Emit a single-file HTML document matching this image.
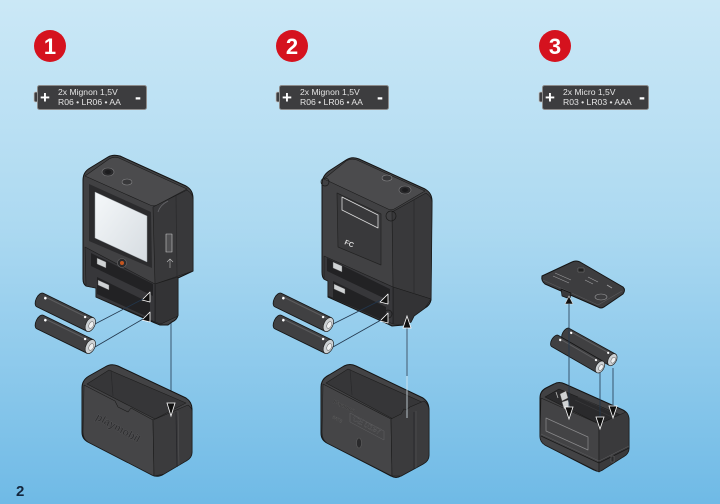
<!DOCTYPE html>
<html><head><meta charset="utf-8">
<style>
html,body{margin:0;padding:0;width:720px;height:504px;overflow:hidden;background:#aedaf1;}
svg{display:block;}
text{font-family:"Liberation Sans",Arial,sans-serif;}
</style></head><body>
<svg width="720" height="504" viewBox="0 0 720 504" xmlns="http://www.w3.org/2000/svg">
<defs>
<linearGradient id="bg" x1="0" y1="0" x2="0" y2="1">
<stop offset="0" stop-color="#cbe8f6"/>
<stop offset="0.45" stop-color="#acd9f1"/>
<stop offset="1" stop-color="#6fbae6"/>
</linearGradient>
<linearGradient id="scr" x1="0" y1="0" x2="1" y2="1">
<stop offset="0" stop-color="#f5f8fa"/><stop offset="1" stop-color="#d6dce1"/>
</linearGradient>
</defs>
<rect width="720" height="504" fill="url(#bg)"/>

<!-- step circles -->
<circle cx="50" cy="46" r="16" fill="#d5121e"/>
<text x="50" y="54" font-size="22" font-weight="bold" fill="#fff" text-anchor="middle">1</text>
<circle cx="292" cy="46" r="16" fill="#d5121e"/>
<text x="292" y="54" font-size="22" font-weight="bold" fill="#fff" text-anchor="middle">2</text>
<circle cx="555" cy="46" r="16" fill="#d5121e"/>
<text x="555" y="54" font-size="22" font-weight="bold" fill="#fff" text-anchor="middle">3</text>

<!-- battery labels -->
<g>
<rect x="34" y="92" width="6" height="10" rx="1.5" fill="#3d3d3f" stroke="#c4c4c4" stroke-width="0.8"/>
<rect x="37.5" y="85.5" width="109" height="24" rx="2" fill="#3d3d3f" stroke="#8c8c8c"/>
<text x="45" y="103" font-size="17" font-weight="bold" fill="#fff" text-anchor="middle">+</text>
<text x="58" y="95" font-size="8.6" fill="#e4e4e4">2x Mignon 1,5V</text>
<text x="58" y="105" font-size="8.6" fill="#e4e4e4">R06 • LR06 • AA</text>
<text x="138" y="103" font-size="18" font-weight="bold" fill="#fff" text-anchor="middle">-</text>
</g>
<g transform="translate(242,0)">
<rect x="34" y="92" width="6" height="10" rx="1.5" fill="#3d3d3f" stroke="#c4c4c4" stroke-width="0.8"/>
<rect x="37.5" y="85.5" width="109" height="24" rx="2" fill="#3d3d3f" stroke="#8c8c8c"/>
<text x="45" y="103" font-size="17" font-weight="bold" fill="#fff" text-anchor="middle">+</text>
<text x="58" y="95" font-size="8.6" fill="#e4e4e4">2x Mignon 1,5V</text>
<text x="58" y="105" font-size="8.6" fill="#e4e4e4">R06 • LR06 • AA</text>
<text x="138" y="103" font-size="18" font-weight="bold" fill="#fff" text-anchor="middle">-</text>
</g>
<g transform="translate(505,0)">
<rect x="34" y="92" width="6" height="10" rx="1.5" fill="#3d3d3f" stroke="#c4c4c4" stroke-width="0.8"/>
<rect x="37.5" y="85.5" width="106" height="24" rx="2" fill="#3d3d3f" stroke="#8c8c8c"/>
<text x="45" y="103" font-size="17" font-weight="bold" fill="#fff" text-anchor="middle">+</text>
<text x="58" y="95" font-size="8.6" fill="#e4e4e4">2x Micro 1,5V</text>
<text x="58" y="105" font-size="8.6" fill="#e4e4e4">R03 • LR03 • AAA</text>
<text x="137" y="103" font-size="18" font-weight="bold" fill="#fff" text-anchor="middle">-</text>
</g>

<!-- ================= DEVICE 1 ================= -->
<g stroke-linejoin="round">
<path d="M83,180 Q83,172 90,168 L108,157 Q113,154 120,156 L186,186 Q193,190 193,198 L193,271 L178,278 L178,315 Q177,320 172,322 L168,325 L160,325 L155,323 L96,297 L96,288 L86,286 Q83,284 83,279 Z" fill="#414143" stroke="#141414" stroke-width="1"/>
<path d="M85,176 L109,159 Q114,156 119,158 L187,189 L159,204 Q155,207 150,205 Z" fill="#4b4b4d" stroke="#1c1c1c" stroke-width=".6"/>
<path d="M153,207 L187,190 Q193,194 193,199 L193,271 L155,284 Z" fill="#38383a" stroke="#1c1c1c" stroke-width=".6"/>
<path d="M155,284 L178,277 L178,316 L161,324 L155,322 Z" fill="#333335" stroke="#1c1c1c" stroke-width=".6"/>
<path d="M85,247 L155,284 L155,322 L96,297 L96,288 L86,286 Z" fill="#37373a" stroke="#1c1c1c" stroke-width=".6"/>
<path d="M158,212 Q160,205 168,201" fill="none" stroke="#66666a" stroke-width=".8"/>
<line x1="176" y1="196" x2="177" y2="276" stroke="#29292b" stroke-width=".7"/>
<!-- openings -->
<path d="M91,253 L153,284 L153,296 L91,266 Z" fill="#222224"/>
<path d="M97,277 L150,303 L150,318 L97,294 Z" fill="#222224"/>
<path d="M97,258 L106,262 L106,268 L97,264 Z" fill="#cfd2d4" stroke="#555" stroke-width=".4"/>
<path d="M98,280 L109,285 L109,290 L98,285 Z" fill="#cfd2d4" stroke="#555" stroke-width=".4"/>
<!-- screen -->
<path d="M89,184 L151,212 L152,268 L89,241 Z" fill="#2b2b2d"/>
<path d="M95,192 L147,216 L147,262 L95,238 Z" fill="url(#scr)" stroke="#9aa0a4" stroke-width=".5"/>
<!-- button -->
<circle cx="122" cy="263" r="4.5" fill="#2a2a2c" stroke="#6a6a6c" stroke-width=".6"/>
<circle cx="122" cy="263" r="2" fill="#c4561f"/>
<!-- top buttons -->
<ellipse cx="108" cy="172" rx="6" ry="4" fill="#2a2a2c" stroke="#7a7a7c" stroke-width=".6"/>
<ellipse cx="108" cy="172" rx="3" ry="2" fill="#1c1c1e"/>
<ellipse cx="127" cy="182" rx="5" ry="3" fill="#38383a" stroke="#8a8a8c" stroke-width=".6"/>
<!-- side port -->
<rect x="166" y="234" width="6" height="18" fill="#505052" stroke="#c8c8c8" stroke-width=".6"/>
<path d="M170,259 L170,268 M167,262 L170,259 L173,262" fill="none" stroke="#bbb" stroke-width=".6"/>
<!-- markers -->
<path d="M142,300 L150,292 L150,302 Z" fill="#111" stroke="#fff" stroke-width=".8"/>
<path d="M142,320 L150,312 L150,322 Z" fill="#111" stroke="#fff" stroke-width=".8"/>
</g>

<!-- batteries 1 -->
<g transform="translate(40,300) rotate(26)">
<path d="M0,-7.5 L56,-7.5 L56,7.5 L0,7.5 A4,7.5 0 0 1 0,-7.5 Z" fill="#404042" stroke="#141414" stroke-width=".8"/>
<line x1="2" y1="-5" x2="53" y2="-5" stroke="#5c5c5e"/>
<ellipse cx="56" cy="0" rx="4.5" ry="7.5" fill="#cdd1d4" stroke="#222" stroke-width=".7"/>
<ellipse cx="57" cy="0" rx="2.2" ry="3.6" fill="#eef0f1" stroke="#666" stroke-width=".5"/>
<circle cx="4" cy="-4" r="1.3" fill="#fff"/><circle cx="48" cy="-4.5" r="1.2" fill="#fff"/>
</g>
<g transform="translate(40,322) rotate(26)">
<path d="M0,-7.5 L56,-7.5 L56,7.5 L0,7.5 A4,7.5 0 0 1 0,-7.5 Z" fill="#404042" stroke="#141414" stroke-width=".8"/>
<line x1="2" y1="-5" x2="53" y2="-5" stroke="#5c5c5e"/>
<ellipse cx="56" cy="0" rx="4.5" ry="7.5" fill="#cdd1d4" stroke="#222" stroke-width=".7"/>
<ellipse cx="57" cy="0" rx="2.2" ry="3.6" fill="#eef0f1" stroke="#666" stroke-width=".5"/>
<circle cx="4" cy="-4" r="1.3" fill="#fff"/><circle cx="48" cy="-4.5" r="1.2" fill="#fff"/>
</g>
<g stroke="#22374d" stroke-width=".8" fill="none">
<line x1="95" y1="324" x2="143" y2="299"/>
<line x1="95" y1="347" x2="143" y2="319"/>
<line x1="171" y1="323" x2="171" y2="404"/>
</g>

<!-- case 1 -->
<g stroke-linejoin="round">
<path d="M82,388 Q82,380 89,376 L105,367 Q111,363 118,366 L186,398 Q192,402 192,409 L192,452 Q192,458 186,461 L164,474 Q158,478 152,475 L88,442 Q82,439 82,432 Z" fill="#434345" stroke="#141414"/>
<path d="M87,384 L109,370 L186,403 L155,419 Z" fill="#363638" stroke="#1e1e1e" stroke-width=".6"/>
<line x1="111" y1="370" x2="113" y2="396" stroke="#29292b" stroke-width=".7"/>
<path d="M84,385 L115,401 L118,407 L128,412 L131,408 L153,420 L154,476 L88,442 Q83,439 83,432 Z" fill="#454547" stroke="#1c1c1c" stroke-width=".6"/>
<path d="M153,420 L188,405 Q192,408 192,411 L192,452 Q192,458 186,461 L164,474 L154,476 Z" fill="#3b3b3d" stroke="#1c1c1c" stroke-width=".6"/>
<line x1="176" y1="412" x2="177" y2="467" stroke="#26262a" stroke-width=".8"/>
<line x1="178" y1="411" x2="179" y2="466" stroke="#58585a" stroke-width=".5"/>
<text transform="translate(95,419) rotate(29)" font-size="10.5" font-weight="bold" fill="#2e2e30" stroke="#5c5c5e" stroke-width=".3">playmobil</text>
</g>
<path d="M167,403 L175,403 L171,416 Z" fill="#111" stroke="#fff" stroke-width=".8"/>

<!-- ================= DEVICE 2 ================= -->
<g stroke-linejoin="round">
<path d="M322,184 Q322,176 329,171 L346,160 Q352,156 359,159 L425,189 Q432,193 432,201 L431,300 Q430,305 425,308 L414,316 L411,322 L404,325 L392,326 L388,324 L328,297 L328,281 L324,279 Q322,277 322,272 Z" fill="#414143" stroke="#141414"/>
<path d="M324,179 L346,161 Q351,158 357,160 L425,191 L396,208 Q392,211 388,209 Z" fill="#4b4b4d" stroke="#1c1c1c" stroke-width=".6"/>
<path d="M392,212 L426,193 Q432,197 432,202 L431,299 L393,287 Z" fill="#39393b" stroke="#1c1c1c" stroke-width=".6"/>
<path d="M393,287 L431,299 L425,308 L414,316 L411,322 L404,325 L393,324 Z" fill="#333335" stroke="#1c1c1c" stroke-width=".6"/>
<path d="M324,256 L393,287 L393,324 L328,296 L328,281 L324,279 Z" fill="#37373a" stroke="#1c1c1c" stroke-width=".6"/>
<line x1="414" y1="200" x2="414" y2="294" stroke="#29292b" stroke-width=".7"/>
<circle cx="325" cy="182" r="4" fill="none" stroke="#1a1a1a" stroke-width=".7"/>
<circle cx="391" cy="216" r="5" fill="none" stroke="#1a1a1a" stroke-width=".7"/>
<circle cx="388" cy="314" r="4" fill="none" stroke="#1a1a1a" stroke-width=".7"/>
<!-- openings -->
<path d="M327,258 L390,289 L390,301 L327,271 Z" fill="#222224"/>
<path d="M333,281 L386,307 L386,322 L333,298 Z" fill="#222224"/>
<path d="M333,262 L342,266 L342,272 L333,268 Z" fill="#cfd2d4" stroke="#555" stroke-width=".4"/>
<path d="M334,284 L345,289 L345,294 L334,289 Z" fill="#cfd2d4" stroke="#555" stroke-width=".4"/>
<!-- label recess -->
<path d="M337,193 L381,214 L381,265 L338,247 Z" fill="#39393b" stroke="#222" stroke-width=".7"/>
<path d="M342,197 L378,215 L378,228 L342,210 Z" fill="none" stroke="#dcdcdc" stroke-width=".8"/>
<text transform="translate(344,244) rotate(22)" font-size="7" font-weight="bold" fill="#dcdcdc">FC</text>
<!-- top buttons -->
<ellipse cx="387" cy="178" rx="5" ry="3" fill="#38383a" stroke="#8a8a8c" stroke-width=".6"/>
<ellipse cx="405" cy="190" rx="6" ry="4" fill="#2a2a2c" stroke="#7a7a7c" stroke-width=".6"/>
<ellipse cx="405" cy="190" rx="3" ry="2" fill="#1c1c1e"/>
<path d="M380,302 L388,294 L388,304 Z" fill="#111" stroke="#fff" stroke-width=".8"/>
<path d="M380,321 L388,313 L388,323 Z" fill="#111" stroke="#fff" stroke-width=".8"/>
</g>

<!-- batteries 2 -->
<g transform="translate(278,300) rotate(26)">
<path d="M0,-7.5 L56,-7.5 L56,7.5 L0,7.5 A4,7.5 0 0 1 0,-7.5 Z" fill="#404042" stroke="#141414" stroke-width=".8"/>
<line x1="2" y1="-5" x2="53" y2="-5" stroke="#5c5c5e"/>
<ellipse cx="56" cy="0" rx="4.5" ry="7.5" fill="#cdd1d4" stroke="#222" stroke-width=".7"/>
<ellipse cx="57" cy="0" rx="2.2" ry="3.6" fill="#eef0f1" stroke="#666" stroke-width=".5"/>
<circle cx="4" cy="-4" r="1.3" fill="#fff"/><circle cx="48" cy="-4.5" r="1.2" fill="#fff"/>
</g>
<g transform="translate(278,322) rotate(26)">
<path d="M0,-7.5 L56,-7.5 L56,7.5 L0,7.5 A4,7.5 0 0 1 0,-7.5 Z" fill="#404042" stroke="#141414" stroke-width=".8"/>
<line x1="2" y1="-5" x2="53" y2="-5" stroke="#5c5c5e"/>
<ellipse cx="56" cy="0" rx="4.5" ry="7.5" fill="#cdd1d4" stroke="#222" stroke-width=".7"/>
<ellipse cx="57" cy="0" rx="2.2" ry="3.6" fill="#eef0f1" stroke="#666" stroke-width=".5"/>
<circle cx="4" cy="-4" r="1.3" fill="#fff"/><circle cx="48" cy="-4.5" r="1.2" fill="#fff"/>
</g>
<g stroke="#22374d" stroke-width=".8" fill="none">
<line x1="333" y1="324" x2="381" y2="300"/>
<line x1="333" y1="347" x2="381" y2="320"/>
</g>

<!-- case 2 -->
<g stroke-linejoin="round">
<path d="M321,387 Q321,379 329,375 L344,366 Q350,363 356,366 L423,398 Q429,402 429,410 L429,455 Q429,461 423,464 L401,476 Q396,479 391,476 L327,443 Q321,440 321,433 Z" fill="#434345" stroke="#141414"/>
<path d="M326,383 L348,369 L424,403 L393,419 Z" fill="#363638" stroke="#1e1e1e" stroke-width=".6"/>
<line x1="350" y1="369" x2="352" y2="395" stroke="#29292b" stroke-width=".7"/>
<path d="M323,384 L391,419 L392,476 L327,443 Q322,440 322,432 Z" fill="#454547" stroke="#1c1c1c" stroke-width=".6"/>
<path d="M391,419 L401,414 L404,409 L406,410 L410,407 L424,401 Q429,405 429,410 L429,455 Q429,461 423,464 L401,476 L392,476 Z" fill="#3b3b3d" stroke="#1c1c1c" stroke-width=".6"/>
<line x1="414" y1="412" x2="414" y2="469" stroke="#26262a" stroke-width=".8"/>
<line x1="416" y1="411" x2="416" y2="468" stroke="#58585a" stroke-width=".5"/>
<text transform="translate(333,402) rotate(28)" font-size="5" font-weight="bold" fill="#2a2a2c" stroke="#666" stroke-width=".2">playmobil</text>
<text transform="translate(332,418) rotate(28)" font-size="4.5" fill="#2a2a2c" stroke="#666" stroke-width=".2">6AT8</text>
<path d="M350,413 L384,431 L384,440 L350,422 Z" fill="none" stroke="#606062" stroke-width=".5"/>
<text transform="translate(352,420) rotate(28)" font-size="8" fill="#2e2e30" stroke="#6a6a6c" stroke-width=".3">CE 0197</text>
<ellipse cx="359" cy="443" rx="2.5" ry="5" fill="#2a2a2c" stroke="#666" stroke-width=".5"/>
</g>
<line x1="407" y1="327" x2="407" y2="418" stroke="#d8e6ee" stroke-width=".8"/>
<line x1="407" y1="327" x2="407" y2="376" stroke="#22374d" stroke-width=".8"/>
<path d="M403,328 L411,328 L407,316 Z" fill="#111" stroke="#fff" stroke-width=".8"/>

<!-- ================= DEVICE 3 ================= -->
<!-- lid -->
<g stroke-linejoin="round">
<path d="M542,276 L572,262 Q576,260 580,262 L623,287 Q626,290 623,294 L604,307 Q601,309 598,307 L545,284 Q541,281 542,276 Z" fill="#3d3d3f" stroke="#141414"/>
<path d="M543,280 L598,305 L622,291" fill="none" stroke="#5a5a5c" stroke-width=".6"/>
<path d="M553,276 L569,283 M555,273 L571,280" stroke="#9a9a9c" stroke-width=".6"/>
<rect x="578" y="268" width="6" height="4" fill="#222" stroke="#888" stroke-width=".4"/>
<path d="M585,280 L593,284 M588,277 L598,282" stroke="#a0a0a2" stroke-width=".6"/>
<ellipse cx="601" cy="297" rx="6" ry="3" fill="none" stroke="#9a9a9c" stroke-width=".6"/>
<path d="M607,285 L612,288" stroke="#a0a0a2" stroke-width=".8"/>
<path d="M561,289 L571,293 L570,299 L562,296 Z" fill="#3a3a3c" stroke="#111" stroke-width=".7"/>
</g>
<path d="M565,304 L573,304 L569,296 Z" fill="#111" stroke="#ddd" stroke-width=".6"/>

<!-- batteries 3 -->
<g transform="translate(566,334) rotate(29)">
<path d="M0,-6.5 L53,-6.5 L53,6.5 L0,6.5 A3.5,6.5 0 0 1 0,-6.5 Z" fill="#404042" stroke="#141414" stroke-width=".8"/>
<line x1="2" y1="-4.3" x2="50" y2="-4.3" stroke="#5c5c5e"/>
<ellipse cx="53" cy="0" rx="4" ry="6.5" fill="#cdd1d4" stroke="#222" stroke-width=".7"/>
<ellipse cx="54" cy="0" rx="2" ry="3.2" fill="#eef0f1" stroke="#666" stroke-width=".5"/>
<circle cx="4" cy="-3.5" r="1.2" fill="#fff"/><circle cx="46" cy="-4" r="1.1" fill="#fff"/>
</g>
<g transform="translate(555,341) rotate(30)">
<path d="M0,-6.5 L52,-6.5 L52,6.5 L0,6.5 A3.5,6.5 0 0 1 0,-6.5 Z" fill="#404042" stroke="#141414" stroke-width=".8"/>
<line x1="2" y1="-4.3" x2="49" y2="-4.3" stroke="#5c5c5e"/>
<ellipse cx="52" cy="0" rx="4" ry="6.5" fill="#cdd1d4" stroke="#222" stroke-width=".7"/>
<ellipse cx="53" cy="0" rx="2" ry="3.2" fill="#eef0f1" stroke="#666" stroke-width=".5"/>
<circle cx="4" cy="-3.5" r="1.2" fill="#fff"/><circle cx="45" cy="-4" r="1.1" fill="#fff"/>
</g>

<!-- box 3 -->
<g stroke-linejoin="round">
<path d="M540,398 Q540,391 546,388 L554,384 Q559,381 565,384 L623,410 Q629,413 629,420 L629,448 Q629,454 623,457 L604,469 Q599,473 594,470 L545,445 Q540,442 540,436 Z" fill="#414143" stroke="#141414"/>
<path d="M545,397 L559,389 L623,416 L603,426 Z" fill="#2a2a2c" stroke="#1a1a1a" stroke-width=".6"/>
<path d="M541,398 L599,424 L599,472 L545,445 Q540,442 540,436 Z" fill="#434345" stroke="#1c1c1c" stroke-width=".6"/>
<path d="M599,424 L626,412 Q629,415 629,420 L629,448 Q629,454 623,457 L604,469 L599,472 Z" fill="#3a3a3c" stroke="#1c1c1c" stroke-width=".6"/>
<path d="M541,436 L599,463 L629,448" fill="none" stroke="#1a1a1a" stroke-width=".8"/>
<path d="M541,434 L599,461 L629,446" fill="none" stroke="#5e5e60" stroke-width=".5"/>
<path d="M546,418 L588,437 L588,450 L546,431 Z" fill="none" stroke="#8a8a8c" stroke-width=".7"/>
<rect x="611" y="456" width="3" height="6" fill="#2a2a2c" stroke="#777" stroke-width=".4"/>
<path d="M560,394 L566,391 L568,398 L562,401 Z" fill="#cfd2d4" stroke="#555" stroke-width=".4"/>
<path d="M562,402 L568,400 L570,407 L564,409 Z" fill="#cfd2d4" stroke="#555" stroke-width=".4"/>
<path d="M556,392 L558,398" stroke="#bbb" stroke-width=".8"/>
<path d="M575,400 L612,417 M578,397 L616,414" stroke="#3c3c3e" stroke-width=".6"/>
</g>
<g stroke="#22374d" stroke-width=".8" fill="none">
<line x1="569" y1="304" x2="569" y2="408"/>
<line x1="600" y1="373" x2="600" y2="418"/>
<line x1="613" y1="368" x2="613" y2="407"/>
</g>
<path d="M565,407 L573,407 L569,419 Z" fill="#111" stroke="#fff" stroke-width=".8"/>
<path d="M596,417 L604,417 L600,429 Z" fill="#111" stroke="#fff" stroke-width=".8"/>
<path d="M609,406 L617,406 L613,418 Z" fill="#111" stroke="#fff" stroke-width=".8"/>

<!-- page number -->
<text x="16" y="496" font-size="15" font-weight="bold" fill="#14263c">2</text>
</svg>
</body></html>
